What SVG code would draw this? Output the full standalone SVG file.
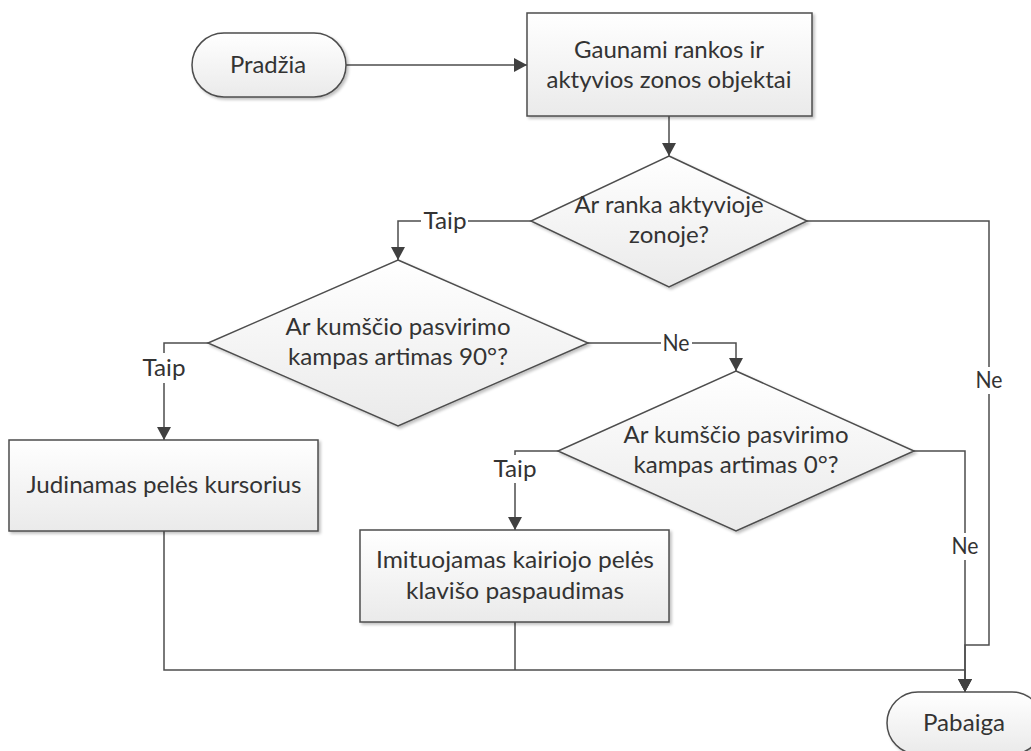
<svg xmlns="http://www.w3.org/2000/svg" width="1031" height="751" viewBox="0 0 1031 751">
  <defs>
    <linearGradient id="fill" x1="0" y1="0" x2="0" y2="1">
      <stop offset="0" stop-color="#ffffff"/>
      <stop offset="1" stop-color="#eaeaea"/>
    </linearGradient>
    <filter id="shadow" x="-10%" y="-10%" width="130%" height="130%">
      <feGaussianBlur in="SourceAlpha" stdDeviation="1.5"/>
      <feOffset dx="2" dy="2" result="off"/>
      <feComponentTransfer><feFuncA type="linear" slope="0.25"/></feComponentTransfer>
      <feMerge><feMergeNode/><feMergeNode in="SourceGraphic"/></feMerge>
    </filter>
    <marker id="arrow" markerUnits="userSpaceOnUse" markerWidth="14" markerHeight="14" refX="13" refY="7" orient="auto">
      <path d="M0,0 L13,7 L0,14 z" fill="#404040"/>
    </marker>
    <style>
      .shape { fill: url(#fill); stroke: #4d4d4d; stroke-width: 1.5; filter: url(#shadow); }
      .txt { font-family: Lato, "Open Sans", sans-serif; font-size: 23px; fill: #333333; text-anchor: middle; }
      .conn { fill: none; stroke: #4d4d4d; stroke-width: 1.5; }
      .arr { marker-end: url(#arrow); }
      .lblbg { fill: #ffffff; }
    </style>
  </defs>

  <rect width="1031" height="751" fill="#ffffff"/>

  <!-- connectors -->
  <g id="connectors">
    <path class="conn arr" d="M346,65 H527"/>
    <path class="conn arr" d="M669,116 V156"/>
    <path class="conn arr" d="M531,221 H398 V260"/>
    <path class="conn arr" d="M807,221 H989 V645 H965 V692"/>
    <path class="conn arr" d="M208,343 H164 V440"/>
    <path class="conn arr" d="M588,343 H736 V371"/>
    <path class="conn arr" d="M558,451 H515 V530"/>
    <path class="conn arr" d="M914,451 H965 V692"/>
    <path class="conn arr" d="M164,531 V670 H965 V692"/>
    <path class="conn" d="M515,622 V670"/>

    <!-- branch labels -->
    <rect class="lblbg" x="421" y="209" width="47" height="24"/>
    <text class="txt" x="445" y="229" textLength="43" lengthAdjust="spacingAndGlyphs">Taip</text>
    <rect class="lblbg" x="140" y="353" width="48" height="30"/>
    <text class="txt" x="164" y="376" textLength="43" lengthAdjust="spacingAndGlyphs">Taip</text>
    <rect class="lblbg" x="491" y="455" width="48" height="28"/>
    <text class="txt" x="515" y="477" textLength="43" lengthAdjust="spacingAndGlyphs">Taip</text>
    <rect class="lblbg" x="661" y="331" width="31" height="24"/>
    <text class="txt" x="676" y="351" textLength="27" lengthAdjust="spacingAndGlyphs">Ne</text>
    <rect class="lblbg" x="974" y="367" width="31" height="27"/>
    <text class="txt" x="989" y="388" textLength="27" lengthAdjust="spacingAndGlyphs">Ne</text>
    <rect class="lblbg" x="950" y="533" width="31" height="27"/>
    <text class="txt" x="965" y="554" textLength="27" lengthAdjust="spacingAndGlyphs">Ne</text>
  </g>

  <!-- start -->
  <g id="start">
    <rect class="shape" x="192" y="33" width="154" height="64" rx="32" ry="32"/>
    <text class="txt" x="268" y="73" textLength="76" lengthAdjust="spacingAndGlyphs">Pradžia</text>
  </g>

  <!-- acquire objects -->
  <g id="acquire">
    <rect class="shape" x="527" y="13" width="285" height="103"/>
    <text class="txt" x="669" y="58" textLength="190" lengthAdjust="spacingAndGlyphs">Gaunami rankos ir</text>
    <text class="txt" x="669" y="88" textLength="245" lengthAdjust="spacingAndGlyphs">aktyvios zonos objektai</text>
  </g>

  <!-- decision: hand in active zone -->
  <g id="in-zone">
    <polygon class="shape" points="669,156 807,221 669,287 531,221"/>
    <text class="txt" x="669" y="213" textLength="189" lengthAdjust="spacingAndGlyphs">Ar ranka aktyvioje</text>
    <text class="txt" x="669" y="243" textLength="80" lengthAdjust="spacingAndGlyphs">zonoje?</text>
  </g>

  <!-- decision: tilt near 90 -->
  <g id="tilt-90">
    <polygon class="shape" points="398,260 588,343 398,426 208,343"/>
    <text class="txt" x="398" y="335" textLength="225" lengthAdjust="spacingAndGlyphs">Ar kumščio pasvirimo</text>
    <text class="txt" x="398" y="365" textLength="220" lengthAdjust="spacingAndGlyphs">kampas artimas 90°?</text>
  </g>

  <!-- decision: tilt near 0 -->
  <g id="tilt-0">
    <polygon class="shape" points="736,371 914,451 736,531 558,451"/>
    <text class="txt" x="736" y="443" textLength="225" lengthAdjust="spacingAndGlyphs">Ar kumščio pasvirimo</text>
    <text class="txt" x="736" y="473" textLength="205" lengthAdjust="spacingAndGlyphs">kampas artimas 0°?</text>
  </g>

  <!-- move cursor -->
  <g id="move-cursor">
    <rect class="shape" x="9" y="440" width="309" height="91"/>
    <text class="txt" x="164" y="493" textLength="275" lengthAdjust="spacingAndGlyphs">Judinamas pelės kursorius</text>
  </g>

  <!-- left click -->
  <g id="left-click">
    <rect class="shape" x="360" y="530" width="309" height="92"/>
    <text class="txt" x="515" y="568" textLength="278" lengthAdjust="spacingAndGlyphs">Imituojamas kairiojo pelės</text>
    <text class="txt" x="515" y="599" textLength="218" lengthAdjust="spacingAndGlyphs">klavišo paspaudimas</text>
  </g>

  <!-- end -->
  <g id="end">
    <rect class="shape" x="887" y="692" width="156" height="62" rx="31" ry="31"/>
    <text class="txt" x="964" y="731" textLength="82" lengthAdjust="spacingAndGlyphs">Pabaiga</text>
  </g>
</svg>
